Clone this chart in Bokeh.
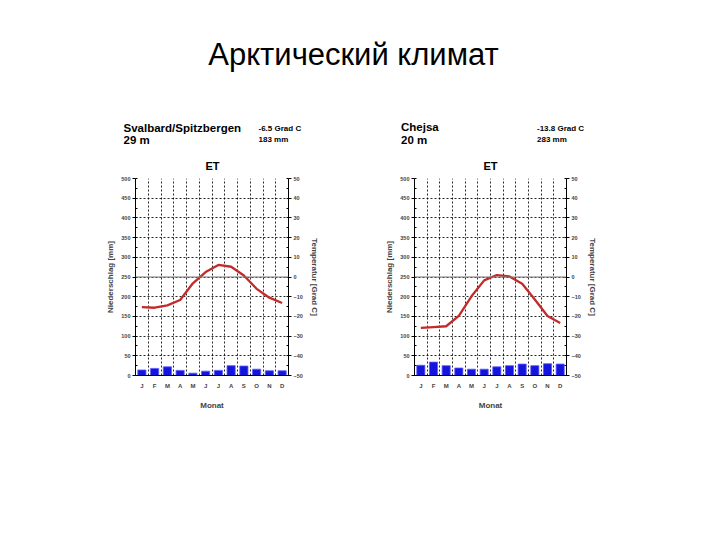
from bokeh.plotting import figure
from bokeh.models import (Range1d, LinearAxis, SingleIntervalTicker, FixedTicker, Span)
from bokeh.layouts import column, row
from bokeh.embed import file_html
from bokeh.resources import INLINE
from bokeh.core.properties import value

TITLE = "Арктический климат"
months = ["J", "F", "M", "A", "M", "J", "J", "A", "S", "O", "N", "D"]
month_idx = list(range(1, 13))

svalbard_name = "Svalbard/Spitzbergen"
svalbard_alt = "29 m"
svalbard_mean = "-6.5 Grad C"
svalbard_sum = "183 mm"
svalbard_clim = "ET"
svalbard_temp = [-15.3, -15.6, -14.4, -11.7, -3.2, 2.5, 6.1, 5.2, 0.8, -6.0, -10.5, -13.2]
svalbard_prec = [14, 18, 22, 13, 6, 11, 13, 25, 24, 16, 12, 12]

chejsa_name = "Chejsa"
chejsa_alt = "20 m"
chejsa_mean = "-13.8 Grad C"
chejsa_sum = "283 mm"
chejsa_clim = "ET"
chejsa_temp = [-25.8, -25.4, -25.0, -19.7, -9.8, -1.7, 1.0, 0.3, -3.4, -11.4, -19.8, -23.4]
chejsa_prec = [26, 34, 25, 19, 16, 16, 22, 25, 29, 25, 30, 29]

FONT = "Liberation Sans"
TOP_H = 174


def make_chart(temp, prec, bl, br):
    p = figure(width=360, height=540 - TOP_H, output_backend="svg", toolbar_location=None,
               title=None,
               x_range=Range1d(0.5, 12.5), y_range=Range1d(0, 500),
               min_border_left=bl, min_border_right=br,
               min_border_top=4, min_border_bottom=165)
    p.outline_line_color = None
    p.extra_y_ranges = {"temp": Range1d(-50, 50)}

    # grids
    p.xgrid.ticker = FixedTicker(ticks=[i + 0.5 for i in range(0, 13)])
    p.ygrid.ticker = SingleIntervalTicker(interval=50)
    for g in (p.xgrid, p.ygrid):
        g.grid_line_color = "black"
        g.grid_line_dash = "2 2"
        g.grid_line_width = 1
        g.grid_line_alpha = 0.85

    # left axis
    ya = p.yaxis[0]
    ya.ticker = SingleIntervalTicker(interval=50, num_minor_ticks=2)
    ya.axis_label = "Niederschlag [mm]"
    ya.axis_label_text_font = FONT
    ya.axis_label_text_font_style = "bold"
    ya.axis_label_text_font_size = "8px"
    ya.axis_label_standoff = 3
    ya.major_label_text_font = FONT
    ya.major_label_text_font_size = "5.5px"
    ya.major_label_text_font_style = "bold"
    ya.major_label_standoff = 2
    ya.major_tick_out = 3
    ya.major_tick_in = 0
    ya.minor_tick_in = 2
    ya.minor_tick_out = 0

    # right axis
    ra = LinearAxis(y_range_name="temp",
                    ticker=SingleIntervalTicker(interval=10, num_minor_ticks=2))
    ra.axis_label = "Temperatur [Grad C]"
    ra.axis_label_text_font = FONT
    ra.axis_label_text_font_style = "bold"
    ra.axis_label_text_font_size = "8px"
    ra.axis_label_standoff = 4
    ra.major_label_text_font = FONT
    ra.major_label_text_font_size = "5.5px"
    ra.major_label_text_font_style = "bold"
    ra.major_label_standoff = 2
    ra.major_tick_out = 3
    ra.major_tick_in = 0
    ra.minor_tick_in = 2
    ra.minor_tick_out = 0
    p.add_layout(ra, "right")

    # bottom axis
    xa = p.xaxis[0]
    xa.ticker = FixedTicker(ticks=month_idx)
    xa.major_label_overrides = {i: m for i, m in zip(month_idx, months)}
    xa.major_label_text_font = FONT
    xa.major_label_text_font_size = "6px"
    xa.major_label_text_font_style = "bold"
    xa.major_label_standoff = 7
    xa.major_tick_out = 0
    xa.major_tick_in = 0
    xa.minor_tick_out = 0
    xa.minor_tick_in = 0
    xa.axis_label = "Monat"
    xa.axis_label_text_font = FONT
    xa.axis_label_text_font_style = "bold"
    xa.axis_label_text_font_size = "8px"
    xa.axis_label_standoff = 9

    # zero-degree line
    p.add_layout(Span(location=0, dimension="width", y_range_name="temp",
                      line_color="#7a7a7a", line_width=1.2))

    # precipitation bars
    p.vbar(x=month_idx, top=prec, bottom=0, width=0.64,
           fill_color="#1414dc", line_color="#5a5aff", line_width=0.8)

    # temperature line
    p.line(x=month_idx, y=temp, y_range_name="temp",
           line_color="#c42a2a", line_width=2.3, line_join="round")
    return p


# header strip: page-pixel coordinate space (y grows downward)
top = figure(width=720, height=TOP_H, output_backend="svg", toolbar_location=None,
             title=None,
             x_range=Range1d(0, 720), y_range=Range1d(TOP_H, 0),
             min_border=0, min_border_left=0, min_border_right=0,
             min_border_top=0, min_border_bottom=0)
top.axis.visible = False
top.grid.visible = False
top.outline_line_color = None


def txt(x, y, t, size, style="bold", align="left"):
    top.text(x=[x], y=[y], text=[t], text_font=value(FONT), text_font_size=size,
             text_font_style=style, text_align=align, text_baseline="alphabetic",
             text_color="black")


txt(353, 54, TITLE, "31px", style="normal", align="center")

txt(123, 127, svalbard_name, "11.5px")
txt(123, 139, svalbard_alt, "11.5px")
txt(258, 128.3, svalbard_mean, "8px")
txt(258, 139.3, svalbard_sum, "8px")
txt(212, 165, svalbard_clim, "11px", align="center")

txt(400.5, 126.5, chejsa_name, "11.5px")
txt(400.5, 139, chejsa_alt, "11.5px")
txt(536.5, 128.3, chejsa_mean, "8px")
txt(536.5, 139.3, chejsa_sum, "8px")
txt(490, 165, chejsa_clim, "11px", align="center")

left = make_chart(svalbard_temp, svalbard_prec, bl=135, br=72)
right = make_chart(chejsa_temp, chejsa_prec, bl=54, br=154)

layout = column(top, row(left, right, spacing=0), spacing=0)
open("out.html", "w").write(file_html(layout, INLINE))
